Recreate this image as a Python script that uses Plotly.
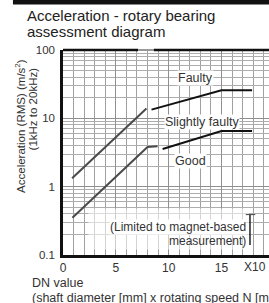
import plotly.graph_objects as go
import math

# ---- data ----
x_tick_vals = [0, 5, 10, 15]
x_tick_text = ["0", "5", "10", "15"]
y_tick_vals = [0.1, 1, 10, 100]
y_tick_text = ["0.1", "1", "10", "100"]

faulty_steep_x = [0.86, 7.9]
faulty_steep_y = [1.33, 13.9]
faulty_x = [8.38, 15.0, 17.9]
faulty_y = [13.4, 25.8, 25.8]

slight_steep_x = [0.89, 8.0, 8.95]
slight_steep_y = [0.35, 3.8, 3.9]
slight_x = [9.43, 15.0, 17.9]
slight_y = [3.56, 6.5, 6.5]

zone_labels = ["Faulty", "Slightly faulty", "Good"]
zone_label_x = [12.5, 13.2, 12.1]
zone_label_y = [38.5, 8.9, 2.37]

FONT = "Liberation Sans, Arial, sans-serif"

fig = go.Figure()
fig.add_trace(go.Scatter(x=faulty_steep_x, y=faulty_steep_y, mode="lines",
                         line=dict(color="#4a4a4a", width=2), hoverinfo="skip"))
fig.add_trace(go.Scatter(x=faulty_x, y=faulty_y, mode="lines",
                         line=dict(color="#111111", width=2), hoverinfo="skip"))
fig.add_trace(go.Scatter(x=slight_steep_x, y=slight_steep_y, mode="lines",
                         line=dict(color="#4a4a4a", width=2), hoverinfo="skip"))
fig.add_trace(go.Scatter(x=slight_x, y=slight_y, mode="lines",
                         line=dict(color="#111111", width=2), hoverinfo="skip"))

annotations = []
for t, xv, yv in zip(zone_labels, zone_label_x, zone_label_y):
    annotations.append(dict(x=xv, y=math.log10(yv), xref="x", yref="y", text=t,
                            showarrow=False, bgcolor="white",
                            font=dict(family=FONT, size=12.5, color="#333"),
                            borderpad=0))

annotations += [
    dict(x=17.43, y=-0.59, xref="x", yref="y", text="(Limited to magnet-based",
         showarrow=False, xanchor="right", bgcolor="white",
         font=dict(family=FONT, size=12, color="#333"), borderpad=0),
    dict(x=17.43, y=-0.80, xref="x", yref="y", text="measurement)",
         showarrow=False, xanchor="right",
         font=dict(family=FONT, size=12, color="#333"), borderpad=0),
    dict(x=-0.184, y=1.166, xref="paper", yref="paper", text="Acceleration - rotary bearing",
         showarrow=False, xanchor="left", yanchor="middle",
         font=dict(family=FONT, size=15, color="#222")),
    dict(x=-0.184, y=1.088, xref="paper", yref="paper", text="assessment diagram",
         showarrow=False, xanchor="left", yanchor="middle",
         font=dict(family=FONT, size=15, color="#222")),
    dict(x=-0.209, y=0.966, xref="paper", yref="paper", text="Acceleration (RMS) (m/s<sup>2</sup>)",
         showarrow=False, textangle=-90, xanchor="center", yanchor="top",
         font=dict(family=FONT, size=11.5, color="#333")),
    dict(x=-0.141, y=0.927, xref="paper", yref="paper", text="(1kHz to 20kHz)",
         showarrow=False, textangle=-90, xanchor="center", yanchor="top",
         font=dict(family=FONT, size=11.5, color="#333")),
    dict(x=-0.160, y=-0.137, xref="paper", yref="paper", text="DN value",
         showarrow=False, xanchor="left", yanchor="middle",
         font=dict(family=FONT, size=12.5, color="#333")),
    dict(x=-0.160, y=-0.205, xref="paper", yref="paper",
         text="(shaft diameter [mm] x rotating speed N [min<sup>-1</sup>])",
         showarrow=False, xanchor="left", yanchor="middle",
         font=dict(family=FONT, size=12.5, color="#333")),
    dict(x=18.2, y=-0.0585, xref="x", yref="paper", text="X10",
         showarrow=False, xanchor="center", yanchor="middle",
         font=dict(family=FONT, size=12, color="#333")),
]

shapes = [
    # faded zone under the magnet-limited note
    dict(type="rect", xref="x", yref="y", x0=2.4, x1=17.6, y0=0.12, y1=0.48,
         fillcolor="white", opacity=0.55, line=dict(width=0), layer="between"),
    # top border (broken)
    dict(type="line", xref="x", yref="paper", x0=0, x1=7.1, y0=1, y1=1,
         line=dict(color="#111", width=2.5)),
    dict(type="line", xref="x", yref="paper", x0=7.1, x1=8.6, y0=1, y1=1,
         line=dict(color="#999", width=2)),
    dict(type="line", xref="x", yref="paper", x0=8.6, x1=19.5, y0=1, y1=1,
         line=dict(color="#111", width=2.5)),
    # bracket
    dict(type="line", xref="x", yref="y", x0=17.7, x1=17.7, y0=0.14, y1=0.39,
         line=dict(color="#222", width=1.5)),
    dict(type="line", xref="x", yref="y", x0=17.3, x1=18.2, y0=0.39, y1=0.39,
         line=dict(color="#444", width=1)),
    # black band at the very top
    dict(type="rect", xref="paper", yref="paper", x0=-0.243, x1=1.05, y0=1.222, y1=1.26,
         fillcolor="#111", line=dict(width=0)),
]

fig.update_layout(
    width=269, height=303,
    margin=dict(l=63, r=0, t=50, b=48),
    paper_bgcolor="white", plot_bgcolor="white",
    showlegend=False,
    annotations=annotations,
    shapes=shapes,
    font=dict(family=FONT, size=11, color="#333"),
)
fig.update_xaxes(
    range=[0, 19.5], tickvals=x_tick_vals, ticktext=x_tick_text,
    showgrid=True, gridcolor="#909090", gridwidth=1.3,
    minor=dict(dtick=1, showgrid=True, gridcolor="#a0a0a0", gridwidth=1.3),
    showline=True, linecolor="#111", linewidth=2.5,
    ticks="",
    tickfont=dict(family=FONT, size=12, color="#333"),
    zeroline=False, fixedrange=True,
)
fig.update_yaxes(
    type="log", range=[-1, 2], tickvals=y_tick_vals, ticktext=y_tick_text,
    showgrid=True, gridcolor="#909090", gridwidth=1,
    minor=dict(dtick="D1", showgrid=True, gridcolor="#adadad", gridwidth=1),
    showline=True, linecolor="#111", linewidth=2.5,
    ticks="outside", ticklen=3, tickcolor="rgba(0,0,0,0)",
    tickfont=dict(family=FONT, size=11.5, color="#333"),
    zeroline=False, fixedrange=True,
)

fig.write_html("out.html", config={"displayModeBar": False},
               post_script="document.body.style.margin='0';document.body.style.overflow='hidden';")
